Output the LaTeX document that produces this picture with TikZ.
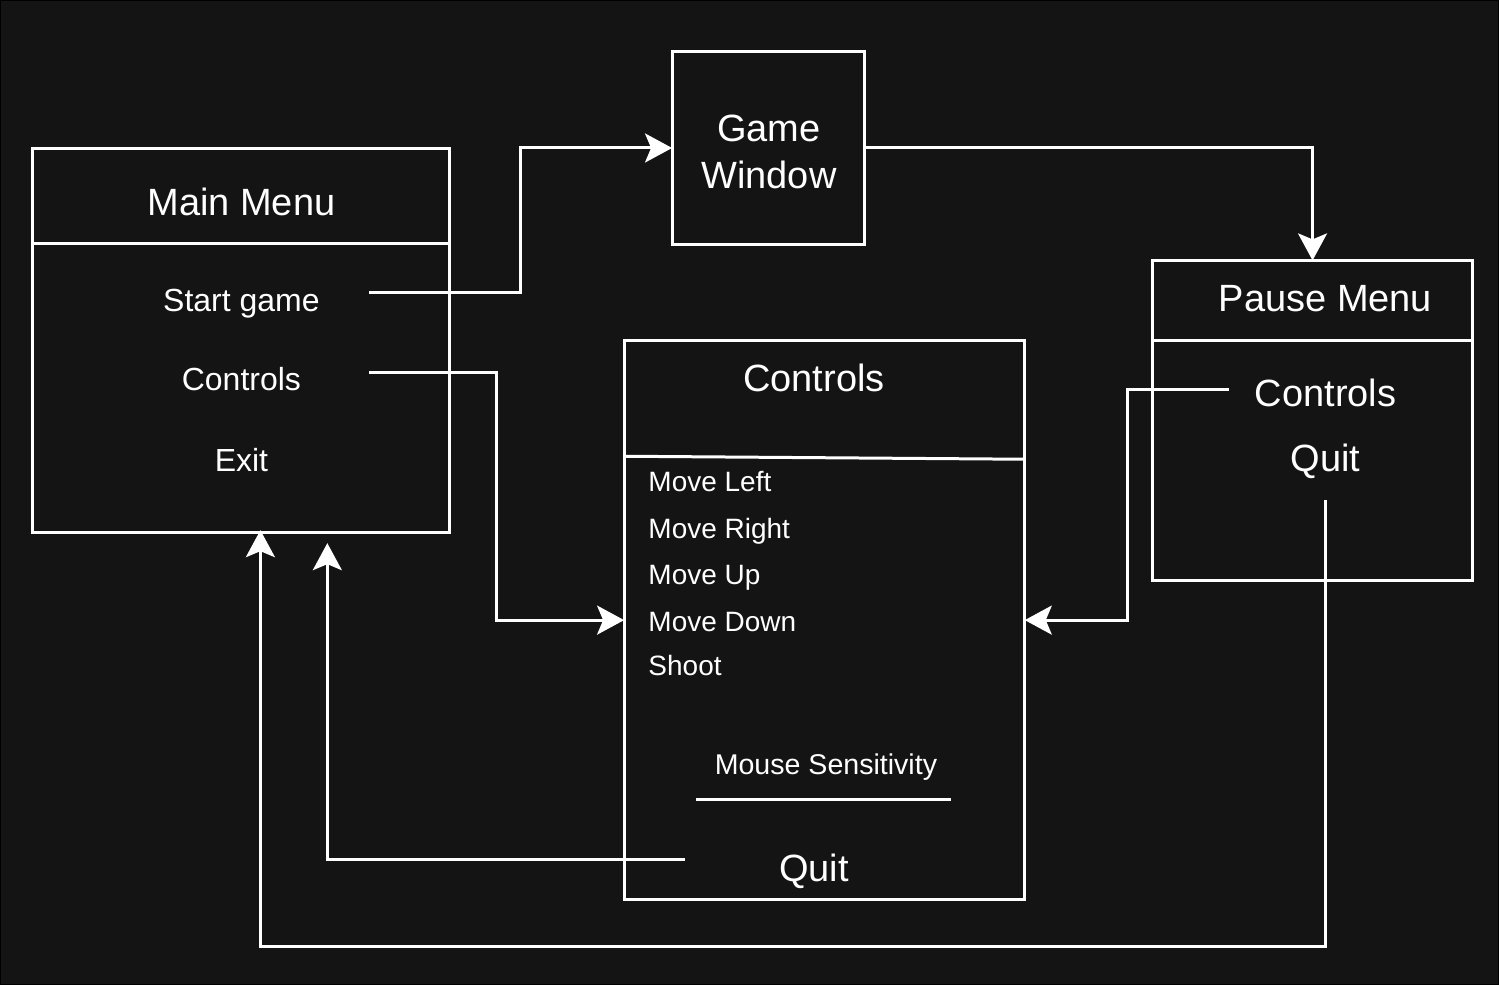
\documentclass[tikz,border=0pt]{standalone}
\usepackage{fontspec}
\setmainfont{Liberation Sans}
\usetikzlibrary{arrows.meta,calc}
\definecolor{bg}{HTML}{141414}
\definecolor{fg}{HTML}{FFFFFF}
\begin{document}
\begin{tikzpicture}[x=0.5pt,y=-0.5pt,
  box/.style={draw=fg,line width=1.5pt,rectangle,inner sep=0pt,outer sep=0pt},
  shapeline/.style={draw=fg,line width=1.5pt},
  conn/.style={draw=fg,line width=1.5pt,-{Stealth[length=13.5pt,width=14.5pt,inset=3pt]}},
  big/.style={text=fg,anchor=base,inner sep=0pt,font=\fontsize{19}{23.5}\selectfont},
  mid/.style={text=fg,anchor=base,inner sep=0pt,font=\fontsize{16}{19}\selectfont},
  small/.style={text=fg,anchor=base west,inner sep=0pt,font=\fontsize{14}{17}\selectfont},
  tiny/.style={text=fg,anchor=base,inner sep=0pt,font=\fontsize{14.3}{17}\selectfont}]
\fill[bg,draw=black,line width=0.6pt] (0,0) rectangle (1499,985);
\useasboundingbox (0,0) rectangle (1499,985);

% boxes
\node[box,minimum width=208.5pt,minimum height=192pt] (mm) at (240.5,340) {};
\node[box,minimum width=96.5pt,minimum height=96.5pt] (gw) at (768.5,147.5) {};
\node[box,minimum width=160pt,minimum height=160pt] (pm) at (1313,420) {};
\node[box,minimum width=200.5pt,minimum height=280pt] (cb) at (824.5,620) {};

% dividers
\draw[shapeline] (32,243) -- (449,243);
\draw[shapeline] (1153,340) -- (1473,340);
\draw[shapeline] (624,456) -- (1025,459);
\draw[shapeline] (696,800) -- (951,800);

% texts
\node[big] (mmt) at (241,215) {Main Menu};
\node[mid] (mmstart) at (241,311.5) {Start game};
\node[mid] (mmctrl) at (241,390) {Controls};
\node[mid] (mmexit) at (241,471) {Exit};
\node[big] (gwt1) at (769,141.5) {Game};
\node[big] (gwt2) at (769,188.3) {Window};
\node[big] (pmt) at (1326,310.7) {Pause Menu};
\node[big] (pmctrl) at (1326,406.7) {Controls};
\node[big] (pmquit) at (1326,471) {Quit};
\node[big] (cbt) at (814,391) {Controls};
\node[small] (ml) at (648,491.7) {Move Left};
\node[small] (mr) at (648,538.3) {Move Right};
\node[small] (mu) at (648,584.3) {Move Up};
\node[small] (md) at (648,631) {Move Down};
\node[small] (sh) at (648,675) {Shoot};
\node[tiny] (ms) at (826,774.3) {Mouse Sensitivity};
\node[big] (cbq) at (814,881.7) {Quit};

% connector ends
\coordinate (sg) at (369,292);
\coordinate (ct) at (369,372);
\coordinate (pc) at (1229,389);
\coordinate (pq) at (1326,500);
\coordinate (cq) at (685,860);
\coordinate (mmin1) at (260,530);
\coordinate (mmin2) at (327,543);

% connectors
\draw[conn] (sg) -- ++(151.5,0) |- (gw.west);
\draw[conn] (ct) -- ++(127.5,0) |- (cb.west);
\draw[conn] (gw.east) -| (pm.north);
\draw[conn] (pc) -- ++(-101,0) |- (cb.east);
\draw[conn] (pq) -- (1326,947) -| (mmin1);
\draw[conn] (cq) -| (mmin2);
\end{tikzpicture}
\end{document}
